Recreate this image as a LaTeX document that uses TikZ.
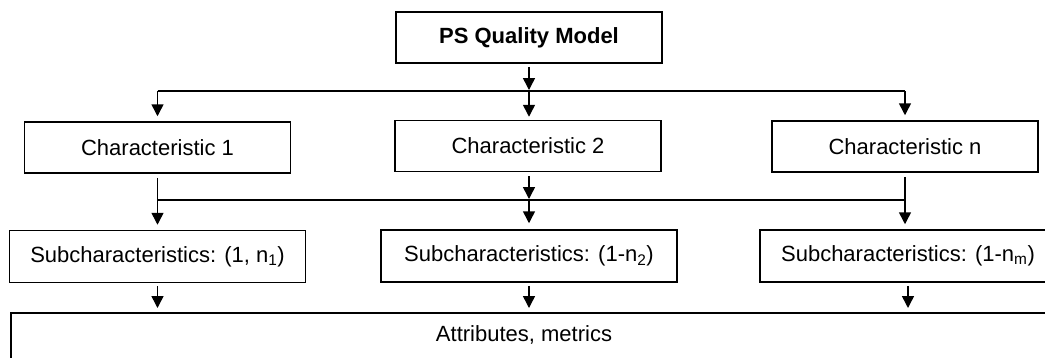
\documentclass[tikz,border=0pt]{standalone}
\usepackage{fontspec}
\setmainfont{Liberation Sans}
\usetikzlibrary{arrows.meta}
\begin{document}
\begin{tikzpicture}[x=1pt,y=-1pt,
  box/.style={draw=black,line width=1.5pt,rectangle,inner sep=0pt,
    font=\fontsize{22}{26}\selectfont},
  cbox/.style={box,minimum width=266pt,minimum height=51pt},
  sbox/.style={box,minimum width=296pt,minimum height=52pt},
  ln/.style={line width=1.5pt},
  arr/.style={ln,-{Triangle[width=12pt,length=12pt]}},
  node distance=0pt]
\useasboundingbox (0,0) rectangle (1045,357);
\clip (0,0) rectangle (1045,357);
\fill[white] (0,0) rectangle (1045,357);
% nodes
\node[cbox,font=\fontsize{22}{26}\selectfont\bfseries] (top) at (529,37.5) {PS Quality Model};
\node[cbox] (c1) at (157.5,147.5) {Characteristic 1};
\node[cbox] (c2) at (528,146) {Characteristic 2};
\node[cbox] (cn) at (905,146.5) {Characteristic n};
\node[sbox] (s1) at (157.5,256.5) {Subcharacteristics: (1, n\textsubscript{1})};
\node[sbox] (s2) at (529,256) {Subcharacteristics: (1-n\textsubscript{2})};
\node[sbox] (sn) at (908,256) {Subcharacteristics: (1-n\textsubscript{m})};
\node[box,anchor=north west,minimum width=1070pt,minimum height=80pt] (attr) at (10,312) {};
\node[font=\fontsize{22}{26}\selectfont,inner sep=0pt] (attrtext) at (524,335) {Attributes, metrics};
\coordinate (bus1) at (529,91);
\coordinate (bus2) at (529,200);
% top level connectors
\draw[arr,shorten <=3pt,shorten >=1pt] (top.south) -- (top.south |- bus1);
\draw[ln] (bus1 -| c1) -- (bus1 -| cn);
\draw[arr,shorten >=5pt] (bus1 -| c1) -- (c1.north);
\draw[arr,shorten >=3pt] (bus1 -| top) -- (top.south |- c2.north);
\draw[arr,shorten >=5pt] (bus1 -| cn) -- (cn.north);
% second level connectors
\draw[ln] (bus2 -| c1) -- (bus2 -| cn);
\draw[arr,shorten <=4pt,shorten >=5pt] (c1.south) -- (s1.north);
\draw[arr,shorten <=4pt,shorten >=1pt] (s2.north |- c2.south) -- (bus2 -| s2);
\draw[arr,shorten >=6pt] (bus2 -| s2) -- (s2.north);
\draw[arr,shorten <=4pt,shorten >=5pt] (cn.south) -- (cn.south |- sn.north);
% third level connectors
\draw[arr,shorten <=3pt,shorten >=4pt] (s1.south) -- (s1.south |- attr.north);
\draw[arr,shorten <=3pt,shorten >=4pt] (s2.south) -- (s2.south |- attr.north);
\draw[arr,shorten <=3pt,shorten >=4pt] (sn.south) -- (sn.south |- attr.north);
\end{tikzpicture}
\end{document}
